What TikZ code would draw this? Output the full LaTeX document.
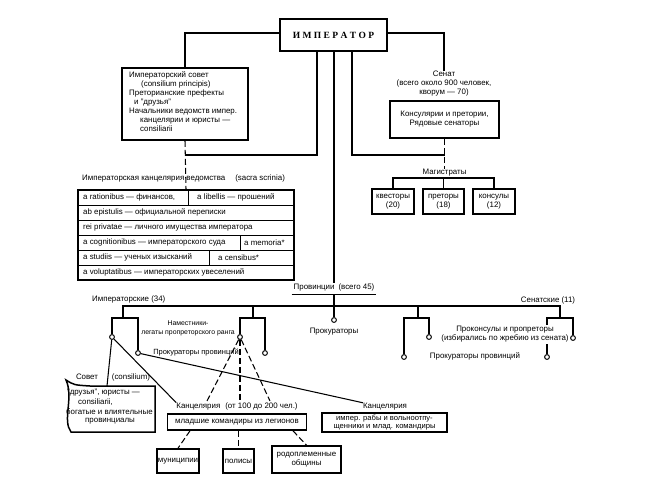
\documentclass[tikz,border=0pt]{standalone}
\usepackage{fontspec}
\setmainfont{Liberation Sans}
\newfontfamily\serifb{Liberation Serif}
\usetikzlibrary{calc}
\begin{document}
\begin{tikzpicture}[x=1pt,y=-1pt,
  font=\fontsize{7.9}{9}\selectfont,
  box/.style={draw, line width=1.6pt, inner sep=0pt},
  conn/.style={line width=1.05pt},
  dsh/.style={line width=1.05pt, dash pattern=on 6pt off 3pt},
  thin/.style={line width=1pt},
  dot/.style={circle, draw, line width=1pt, fill=white, inner sep=0pt, minimum size=4.8pt},
  lbl/.style={inner sep=0pt, align=center},
  lw/.style={inner sep=0pt, anchor=west}]
\useasboundingbox (0,0) rectangle (650,503);
\fill[white] (0,0) rectangle (650,503);

% ---------- top ----------
\node[box, line width=2.2pt, minimum width=107pt, minimum height=32pt] (emp) at (333.5,35)
  {\serifb\bfseries\fontsize{9.5}{10}\selectfont И\hspace{2.4pt}М\hspace{2.4pt}П\hspace{2.4pt}Е\hspace{2.4pt}Р\hspace{2.4pt}А\hspace{2.4pt}Т\hspace{2.4pt}О\hspace{2.4pt}Р};

\node[box, minimum width=126pt, minimum height=72pt] (council) at (185,104) {};
\node[inner sep=0pt, anchor=north west, align=left] (counciltxt) at (129,71.5)
  {Императорский совет\\\hspace*{12pt}(consilium principis)\\Преторианские префекты\\\hspace*{5pt}и "друзья"\\Начальники ведомств импер.\\\hspace*{11pt}канцелярии и юристы —\\\hspace*{11pt}consiliarii};

\node[lbl] (sentxt) at (444,84) {Сенат\\(всего около 900 человек,\\кворум — 70)};
\node[box, minimum width=109pt, minimum height=37pt, align=center] (senbox) at (444.5,119.5)
  {Консулярии и претории,\\Рядовые сенаторы};

\draw[conn] ([yshift=2pt]emp.west) -| (council.north);
\draw[conn] ([yshift=2pt]emp.east) -| (sentxt.north);

\coordinate (e1) at ([xshift=-16.5pt]emp.south);
\coordinate (e2) at ([xshift=0.5pt]emp.south);
\coordinate (e3) at ([xshift=18.5pt]emp.south);
\coordinate (jl) at (185,155);
\coordinate (jr) at (444.5,155);
\draw[conn] (e1) |- (jl);
\draw[conn] (e3) |- (jr);

% ---------- magistrates ----------
\node[lbl] (mag) at (444.5,173) {Магистраты};
\draw[dsh] (senbox.south) -- (mag.north);
\node[box, minimum width=42pt, minimum height=25pt, align=center] (kv) at (393,201.5) {квесторы\\(20)};
\node[box, minimum width=41pt, minimum height=25pt, align=center] (pr) at (443.5,201.5) {преторы\\(18)};
\node[box, minimum width=42pt, minimum height=25pt, align=center] (ko) at (494,201.5) {консулы\\(12)};
\coordinate (magb) at (443.5,178);
\draw[conn] (kv.north) |- (magb) -| (ko.north);
\draw[conn] (magb) -- (pr.north);

% ---------- chancellery table ----------
\node[lw] (tbltitle) at (82,178) {Императорская канцелярия ведомства\hspace{10pt}(sacra scrinia)};
\node[box, minimum width=216pt, minimum height=90pt] (tbl) at (186,235) {};
\draw[dsh] (council.south) -- (tbl.north);
\foreach \y in {205,220,235,250,265} \draw[thin] (78,\y) -- (294,\y);
\draw[thin] (188,190) -- (188,205);
\draw[thin] (240,235) -- (240,250);
\draw[thin] (209,250) -- (209,265);
\begin{scope}[font=\fontsize{7.9}{9}\selectfont]
\node[lw] (r1a) at (83,197.5) {a rationibus — финансов,};
\node[lw] (r1b) at (197,197.5) {a libellis — прошений};
\node[lw] (r2) at (83,212.5) {ab epistulis — официальной переписки};
\node[lw] (r3) at (83,227.5) {rei privatae — личного имущества императора};
\node[lw] (r4a) at (83,242.5) {a cognitionibus — императорского суда};
\node[lw] (r4b) at (244,242.5) {a memoria*};
\node[lw] (r5a) at (83,257.5) {a studiis — ученых изысканий};
\node[lw] (r5b) at (218,257.5) {a censibus*};
\node[lw] (r6) at (83,272.5) {a voluptatibus — императорских увеселений};
\end{scope}

% ---------- provinces ----------
\node[lbl] (prov) at (334,287) {Провинции\hspace{4pt}(всего 45)};
\draw[conn] ($(prov.south west)+(-2,3.5)$) -- ($(prov.south east)+(2,3.5)$);
\coordinate (pu) at ($(prov.south)+(0,3.5)$);
\draw[conn] (e2) -- (prov.north);

\coordinate (mL) at (123,306);
\coordinate (m2) at (253,306);
\coordinate (m3) at (418,306);
\coordinate (mR) at (560,306);
\coordinate (b1) at (123,318);
\coordinate (b2) at (253,318);
\coordinate (b3) at (418,318);
\coordinate (b4) at (560,318);
\draw[conn] (b1) -- (mL) -- (mR) -- (b4);
\draw[conn] (m2) -- (b2);
\draw[conn] (m3) -- (b3);

\node[dot] (c1) at (112,337) {};
\node[dot] (c2) at (138,353) {};
\node[dot] (c3) at (240,337) {};
\node[dot] (c4) at (265,353) {};
\node[dot] (c5) at (334,320) {};
\node[dot] (c6) at (404,357) {};
\node[dot] (c7) at (429,337) {};
\node[dot] (c8) at (547,357) {};
\node[dot] (c9) at (573,338) {};

\draw[conn] (c1) |- (b1) -| (c2);
\draw[conn] (c3) |- (b2) -| (c4);
\draw[conn] (pu) -- (c5);
\draw[conn] (c6) |- (b3) -| (c7);
\draw[conn] (c8) |- (b4) -| (c9);

\node[lw] (implbl) at (92,299.5) {Императорские (34)};
\node[lbl, font=\fontsize{6.9}{9}\selectfont] (nam) at (188,328.5) {Наместники-\\легаты пропреторского ранга};
\node[lbl, font=\fontsize{7.5}{9}\selectfont] (pp1) at (196,352) {Прокураторы провинций};
\node[lbl] (prok) at (334,332) {Прокураторы};
\node[lbl] (senlbl) at (548,300) {Сенатские (11)};
\node[lbl, fill=white, inner ysep=1pt] (procons) at (505,334.5) {Проконсулы и пропреторы\\(избирались по жребию из сената)};
\node[lbl] (pp2) at (475,356) {Прокураторы провинций};

% ---------- lower part ----------
\node[lbl] (sovlbl) at (87,377) {Совет};
\node[lbl] (conslbl) at (131,377) {(consilium)};
\draw[line width=1.5pt] (66,380) .. controls (74,385) .. (90,386) -- (155,386) -- (155,432) -- (71,432)
  .. controls (62,420) and (74,398) .. (66,380) -- cycle;
\coordinate (sovtop) at (107,386);
\node[lw] (s1) at (67,393) {"друзья", юристы —};
\node[lw] (s2) at (78,402.5) {consiliarii,};
\node[lw] (s3) at (66,412) {богатые и влиятельные};
\node[lw] (s4) at (85,421.5) {провинциалы};

\node[lbl] (k1lbl) at (237,406.5) {Канцелярия\hspace{5pt}(от 100 до 200 чел.)};
\node[box, minimum width=139pt, minimum height=16pt] (kbox1) at (237,422) {младшие командиры из легионов};
\node[lbl] (k2lbl) at (385,406.5) {Канцелярия};
\node[box, minimum width=125pt, minimum height=19pt, align=center, font=\fontsize{7.6}{8}\selectfont] (kbox2) at (384.5,422.5)
  {импер. рабы и вольноотпу-\\щенники и млад. командиры};

\coordinate (d1) at (207,401);
\coordinate (d2) at (240,401);
\coordinate (d3) at (270,401);
\draw[conn] (c1) -- (sovtop);
\draw[conn] (c1) -- (k1lbl.north west);
\draw[dsh] (c3) -- (d1);
\draw[dsh] (c3) -- (d2);
\draw[dsh] (c3) -- (d3);
\draw[conn] (c2) -- (k2lbl.north west);

\node[box, minimum width=42pt, minimum height=24pt] (mun) at (178,461) {муниципии};
\node[box, minimum width=31pt, minimum height=24pt] (pol) at (238.5,461) {полисы};
\node[box, minimum width=69pt, minimum height=27pt, align=center] (rod) at (306.5,459.5) {родоплеменные\\общины};
\draw[dsh] ([xshift=-47pt]kbox1.south) -- (mun.north);
\draw[dsh] (pol.north |- kbox1.south) -- (pol.north);
\draw[dsh] ([xshift=56pt]kbox1.south) -- (rod.north);
\end{tikzpicture}
\end{document}
